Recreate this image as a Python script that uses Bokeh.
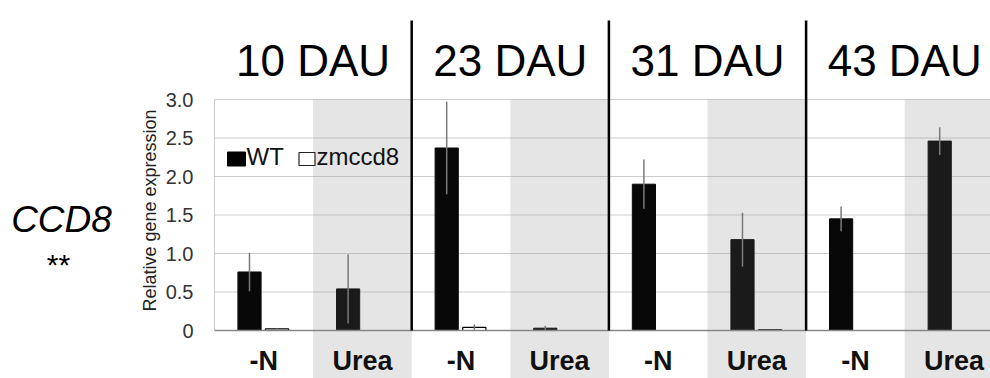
import math
from bokeh.plotting import figure
from bokeh.layouts import row
from bokeh.models import Range1d, FixedTicker
from bokeh.core.properties import value
from bokeh.embed import file_html
from bokeh.resources import INLINE

# ---- data ----
groups = ["10 DAU", "23 DAU", "31 DAU", "43 DAU"]
conditions = ["-N", "Urea"]
wt_mean = [0.76, 0.54, 2.37, 0.03, 1.90, 1.18, 1.45, 2.46]
wt_err = [0.25, 0.45, 0.60, 0.03, 0.32, 0.35, 0.16, 0.18]
mut_mean = [0.02, 0.00, 0.04, 0.00, 0.00, 0.01, 0.00, 0.00]
mut_err = [0.005, 0.00, 0.04, 0.00, 0.00, 0.00, 0.00, 0.00]
ytick_values = [0, 0.5, 1.0, 1.5, 2.0, 2.5, 3.0]
ytick_labels = ["0", "0.5", "1.0", "1.5", "2.0", "2.5", "3.0"]
gene = "CCD8"
signif = "**"
series_names = ["WT", "zmccd8"]
ylabel = "Relative gene expression"

FONT = "Liberation Sans"
PXU = 98.6   # px per half-group unit
PYU = 77.0   # px per y unit
H = 378
LEFT_W = 162
MAIN_W = 990 - LEFT_W
FRAME_X0 = 214           # page x of plot-area left edge
Y0 = 330.0               # page y of value 0
BL = 0.36                # baseline compensation factor (x font size)


def base(y_px, size):
    """page y of a desired baseline -> y to pass to the glyph"""
    return y_px - BL * size


# ---------- left panel (gene name, significance, y-axis title) ----------
lf = figure(width=LEFT_W, height=H, output_backend="svg", toolbar_location=None,
            x_range=Range1d(0, LEFT_W), y_range=Range1d(H, 0),
            x_axis_location=None, y_axis_location=None,
            min_border=0, outline_line_color=None)
lf.xgrid.visible = False
lf.ygrid.visible = False
lf.text(x=[61], y=[base(232, 37)], text=[gene], text_font=value(FONT),
        text_font_size="37px", text_font_style="italic", text_color="black",
        text_align="center", text_baseline="alphabetic")
lf.text(x=[58], y=[264], text=[signif], text_font=value(FONT),
        text_font_size="30px", text_color="black", text_align="center",
        text_baseline="alphabetic")
lf.text(x=[149], y=[210], text=[ylabel], angle=math.pi / 2,
        text_font=value(FONT), text_font_size="18px", text_color="#222222",
        text_align="center", text_baseline="middle")

# ---------- main panel ----------
left_border = FRAME_X0 - LEFT_W
x_end = (MAIN_W - left_border) / PXU
y_top = Y0 / PYU
y_bot = -(H - Y0) / PYU

p = figure(width=MAIN_W, height=H, output_backend="svg", toolbar_location=None,
           x_range=Range1d(0, x_end), y_range=Range1d(y_bot, y_top),
           x_axis_location=None, min_border_left=left_border,
           min_border_right=0, min_border_top=0, min_border_bottom=0,
           outline_line_color=None)
p.xgrid.visible = False
p.ygrid.visible = False

ya = p.yaxis[0]
ya.ticker = FixedTicker(ticks=ytick_values)
ya.major_label_overrides = {v: l for v, l in zip(ytick_values, ytick_labels)}
ya.axis_line_color = None
ya.major_tick_line_color = None
ya.minor_tick_line_color = None
ya.major_tick_out = 0
ya.major_tick_in = 0
ya.major_label_standoff = 21
ya.major_label_text_font = FONT
ya.major_label_text_font_size = "20px"
ya.major_label_text_color = "#333333"

n = len(wt_mean)
half_centers = [i + 0.5 for i in range(n)]
cond_labels = [conditions[i % 2] for i in range(n)]


def ypx(y_px):
    return (Y0 - y_px) / PYU


# gray backgrounds for Urea halves
urea_left = [i for i in range(n) if i % 2 == 1]
p.quad(left=urea_left, right=[l + 1 for l in urea_left],
       bottom=y_bot - 1, top=3.0, fill_color="#e5e5e5", line_color=None)

# gridlines
grid_vals = ytick_values[1:]
p.segment(x0=[0] * len(grid_vals), x1=[x_end + 1] * len(grid_vals),
          y0=grid_vals, y1=grid_vals, line_color="#9a9a9a",
          line_width=1, line_dash="1 1")
p.segment(x0=[0], x1=[0], y0=[0], y1=[3.0], line_color="#9a9a9a", line_width=1)

# bars
off_wt, off_mut, bw = -0.145, 0.135, 0.235
wt_x = [c + off_wt for c in half_centers]
mut_x = [c + off_mut for c in half_centers]
wt_col = ["#080808" if i % 2 == 0 else "#1a1a1a" for i in range(n)]
p.vbar(x=wt_x, top=wt_mean, bottom=0, width=bw, fill_color=wt_col,
       line_color=wt_col, line_width=1)
p.vbar(x=mut_x, top=mut_mean, bottom=0, width=bw, fill_color="white",
       line_color="black", line_width=1.2)

# error bars
p.segment(x0=wt_x, x1=wt_x, y0=[m - e for m, e in zip(wt_mean, wt_err)],
          y1=[m + e for m, e in zip(wt_mean, wt_err)],
          line_color="#7a7a7a", line_width=1.5)
mx = [x for x, e in zip(mut_x, mut_err) if e > 0]
mm = [m for m, e in zip(mut_mean, mut_err) if e > 0]
me = [e for e in mut_err if e > 0]
p.segment(x0=mx, x1=mx, y0=[m - e for m, e in zip(mm, me)],
          y1=[m + e for m, e in zip(mm, me)], line_color="#7a7a7a",
          line_width=1.5)

# baseline
p.segment(x0=[0], x1=[x_end + 1], y0=[0], y1=[0], line_color="#888888",
          line_width=1.5)

# separators
sep_x = [2 * g for g in range(1, len(groups))]
p.segment(x0=sep_x, x1=sep_x, y0=[0] * len(sep_x),
          y1=[ypx(20)] * len(sep_x),
          line_color="black", line_width=2.5)

# group titles
p.text(x=[2 * g + 1 for g in range(len(groups))],
       y=[ypx(base(76, 44))] * len(groups), text=groups,
       text_font=value(FONT), text_font_size="44px", text_color="black",
       text_align="center", text_baseline="alphabetic")

# category labels
p.text(x=half_centers, y=[ypx(base(370, 27))] * n, text=cond_labels,
       text_font=value(FONT), text_font_size="27px", text_font_style="bold",
       text_color="#111111", text_align="center", text_baseline="alphabetic")

# legend
p.rect(x=[(236 - FRAME_X0) / PXU], y=[ypx(158.5)], width=18, height=14,
       width_units="screen", height_units="screen", fill_color="black",
       line_color="black")
p.rect(x=[(306.5 - FRAME_X0) / PXU], y=[ypx(158.5)], width=16, height=13,
       width_units="screen", height_units="screen", fill_color="white",
       line_color="#222222", line_width=1.2)
p.text(x=[(246 - FRAME_X0) / PXU, (316 - FRAME_X0) / PXU],
       y=[ypx(base(165, 24))] * 2, text=series_names,
       text_font=value(FONT), text_font_size="24px", text_color="#111111",
       text_align="left", text_baseline="alphabetic")

layout = row(lf, p, spacing=0)
open("out.html", "w").write(file_html(layout, INLINE))
